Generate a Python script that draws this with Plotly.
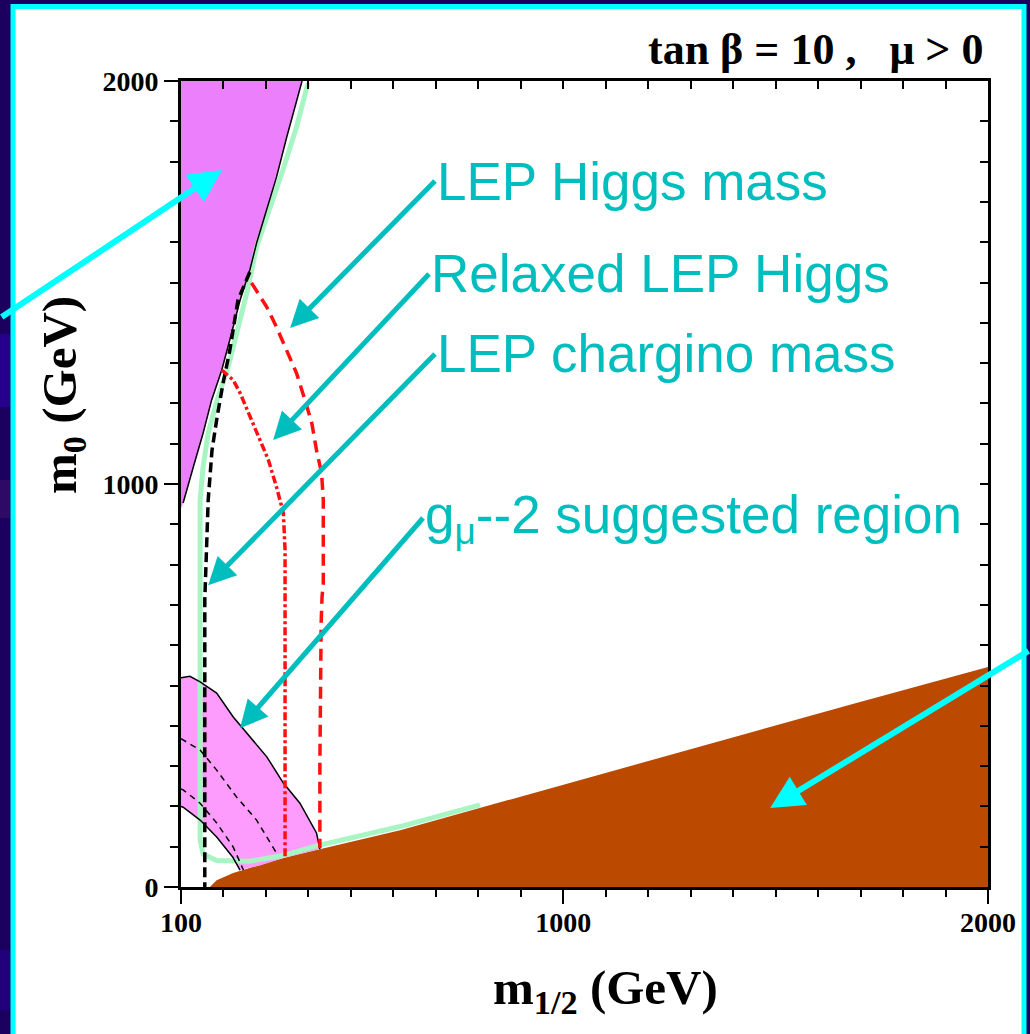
import plotly.graph_objects as go

# ---------------- data (GeV) ----------------
# excluded (charged LSP / stau) region - brown
stau_x = [168, 184, 223, 341, 419, 616, 1675, 2000, 2000]
stau_y = [0, 17, 35, 72, 92, 141, 452, 546, 0]

# no EWSB region - magenta (upper left)
ewsb_x = [100, 385, 364, 349, 325, 302, 278, 262, 239, 219, 196, 172, 152, 129, 105, 100]
ewsb_y = [2000, 2000, 1920, 1861, 1762, 1680, 1598, 1531, 1456, 1374, 1283, 1208, 1126, 1042, 953, 940]

# g-2 suggested region - pink
gm2_top_x = [100, 121, 145, 184, 223, 262, 302, 341, 380, 419, 427]
gm2_top_y = [519, 523, 509, 481, 422, 372, 323, 258, 208, 134, 94]
gm2_low_x = [100, 105, 145, 184, 222, 239]
gm2_low_y = [200, 198, 166, 124, 74, 42]
gm2_brown_x = [341, 284]
gm2_brown_y = [72, 53]
gm2_c1_x = [100, 105, 145, 184, 231, 278, 325]
gm2_c1_y = [368, 365, 340, 290, 223, 166, 84]
gm2_c2_x = [100, 105, 145, 184, 223, 247]
gm2_c2_y = [243, 241, 208, 159, 99, 42]

# cosmologically preferred strip - pale green
dm_x = [399, 372, 340, 309, 278, 255, 231, 211, 185, 164, 152, 145, 145, 145, 152, 184, 262, 340, 419, 616, 804]
dm_y = [1995, 1886, 1779, 1680, 1588, 1474, 1374, 1290, 1208, 1126, 1042, 960, 712, 117, 82, 66, 64, 78, 102, 150, 204]

# LEP chargino mass limit - black dashed
chi_x = [262, 234, 215, 199, 185, 173, 164, 161, 156, 156]
chi_y = [1526, 1456, 1332, 1250, 1166, 1084, 960, 836, 712, 0]

# LEP Higgs mass limit - red dashed
hig_x = [266, 302, 325, 349, 372, 392, 408, 419, 431, 435, 435, 432, 430, 427, 427]
hig_y = [1499, 1439, 1389, 1332, 1275, 1208, 1151, 1084, 1027, 960, 754, 719, 655, 308, 97]

# relaxed LEP Higgs limit - red dash-dot
rhig_x = [196, 223, 239, 262, 286, 306, 325, 341, 345, 345]
rhig_y = [1283, 1258, 1226, 1166, 1109, 1059, 992, 928, 836, 67]

x_tick_vals = [100, 1000, 2000]
x_tick_text = ["<b>100</b>", "<b>1000</b>", "<b>2000</b>"]
y_tick_vals = [0, 1000, 2000]
y_tick_text = ["<b>0</b>", "<b>1000</b>", "<b>2000</b>"]

# annotation labels: text and arrow-head (data)
label_texts = ["LEP Higgs mass", "Relaxed LEP Higgs", "LEP chargino mass",
               "g<sub>μ</sub>--2 suggested region"]
label_heads = [(357, 1387), (317, 1109), (164, 749), (239, 394)]

# ---------------- geometry helpers (layout only) ----------------
W, H = 1030, 1034
L, R, T, B = 181, 988, 81, 887
label_anchor_px = [(435, 181), (429, 274), (435, 354), (423, 518)]


def P(px, py):
    return (px - L) / (R - L), (B - py) / (B - T)


def D2px(x, y):
    return L + (x - 100) / 1900 * (R - L), B - y / 2000 * (B - T)


fig = go.Figure()

fig.add_trace(go.Scatter(x=stau_x, y=stau_y, fill="toself", mode="none",
                         fillcolor="#bb4a00", hoverinfo="skip"))

pink_x = gm2_top_x + gm2_brown_x + gm2_low_x[::-1]
pink_y = gm2_top_y + gm2_brown_y + gm2_low_y[::-1]
fig.add_trace(go.Scatter(x=pink_x, y=pink_y, fill="toself", mode="none",
                         fillcolor="#fd9cfd", hoverinfo="skip"))

fig.add_trace(go.Scatter(x=ewsb_x, y=ewsb_y, fill="toself", mode="none",
                         fillcolor="#ec80fc", hoverinfo="skip"))

fig.add_trace(go.Scatter(x=dm_x, y=dm_y, mode="lines",
                         line=dict(color="#a8f5c4", width=5), hoverinfo="skip"))

for cx, cy in [(gm2_c1_x, gm2_c1_y), (gm2_c2_x, gm2_c2_y)]:
    fig.add_trace(go.Scatter(x=cx, y=cy, mode="lines",
                             line=dict(color="black", width=1.5, dash="6px,5px"), hoverinfo="skip"))
for cx, cy in [(gm2_top_x, gm2_top_y), (gm2_low_x, gm2_low_y)]:
    fig.add_trace(go.Scatter(x=cx, y=cy, mode="lines",
                             line=dict(color="black", width=1.5), hoverinfo="skip"))

fig.add_trace(go.Scatter(x=ewsb_x[1:-1], y=ewsb_y[1:-1], mode="lines",
                         line=dict(color="black", width=1.5), hoverinfo="skip"))

fig.add_trace(go.Scatter(x=chi_x, y=chi_y, mode="lines",
                         line=dict(color="black", width=3.5, dash="10px,5px"), hoverinfo="skip"))
fig.add_trace(go.Scatter(x=hig_x, y=hig_y, mode="lines",
                         line=dict(color="#ff1010", width=3.5, dash="12px,7px"), hoverinfo="skip"))
fig.add_trace(go.Scatter(x=rhig_x, y=rhig_y, mode="lines",
                         line=dict(color="#ff1010", width=3.5, dash="8px,3px,3px,3px"), hoverinfo="skip"))

# dummy trace for the mirrored (top / right) axes with inward ticks
fig.add_trace(go.Scatter(x=[1000], y=[1000], xaxis="x2", yaxis="y2", mode="markers",
                         marker=dict(opacity=0), hoverinfo="skip"))

tickfont = dict(family="Liberation Serif, Times New Roman, serif", size=28, color="black")
fig.update_layout(
    width=W, height=H, showlegend=False,
    margin=dict(l=L, r=W - R, t=T, b=H - B),
    paper_bgcolor="#1c0060", plot_bgcolor="white",
    xaxis=dict(range=[100, 2000], tickmode="array", tickvals=x_tick_vals, ticktext=x_tick_text,
               ticks="outside", ticklen=14, tickwidth=2, tickcolor="black", tickfont=tickfont,
               showline=True, linecolor="black", linewidth=3, mirror=True,
               showgrid=False, zeroline=False, ticklabelstandoff=-6,
               minor=dict(tickmode="linear", tick0=100, dtick=100, ticks="outside",
                          ticklen=7, tickwidth=2, tickcolor="black", showgrid=False)),
    yaxis=dict(range=[0, 2000], tickmode="array", tickvals=y_tick_vals, ticktext=y_tick_text,
               ticks="outside", ticklen=14, tickwidth=2, tickcolor="black", tickfont=tickfont,
               showline=True, linecolor="black", linewidth=3, mirror=True,
               showgrid=False, zeroline=False, ticklabelstandoff=0,
               minor=dict(tickmode="linear", tick0=0, dtick=100, ticks="outside",
                          ticklen=8, tickwidth=2, tickcolor="black", showgrid=False)),
    xaxis2=dict(range=[100, 2000], overlaying="x", side="top", anchor="y2",
                tickmode="linear", tick0=100, dtick=100, ticks="inside", ticklen=8,
                tickwidth=2, tickcolor="black", showticklabels=False, showgrid=False,
                zeroline=False, showline=False),
    yaxis2=dict(range=[0, 2000], overlaying="y", side="right", anchor="x2",
                tickmode="linear", tick0=0, dtick=100, ticks="inside", ticklen=8,
                tickwidth=2, tickcolor="black", showticklabels=False, showgrid=False,
                zeroline=False, showline=False),
)

# subtle tint bands in the dark slide margin on the left
for py0, py1, col in [(334, 407, "#26008c"), (480, 518, "#2e0a66"), (950, 1010, "#22007c")]:
    a0, b0 = P(0, py1)
    a1, b1 = P(10, py0)
    fig.add_shape(type="rect", xref="paper", yref="paper", x0=a0, y0=b0, x1=a1, y1=b1,
                  fillcolor=col, line=dict(width=0), layer="below")

# slide panel
x0, y0 = P(13, 1040)
x1, y1 = P(1024, 6.5)
fig.add_shape(type="rect", xref="paper", yref="paper", x0=x0, y0=y0, x1=x1, y1=y1,
              fillcolor="white", line=dict(color="#00ffff", width=5), layer="below")

serif = "Liberation Serif, Times New Roman, serif"
sans = "Liberation Sans, Arial, sans-serif"
teal = "#00bebe"

ann = []
# title
tx, ty = P(985, 49)
ann.append(dict(x=tx, y=ty, xref="paper", yref="paper", xanchor="right", yanchor="middle",
                text="<b>tan β&nbsp;=&nbsp;10&nbsp;,&nbsp;&nbsp;&nbsp;μ&nbsp;&gt;&nbsp;0</b>",
                showarrow=False, font=dict(family=serif, size=44, color="black")))
# axis titles
tx, ty = P(605, 990)
ann.append(dict(x=tx, y=ty, xref="paper", yref="paper", xanchor="center", yanchor="middle",
                text="<b>m<sub>1/2</sub> (GeV)</b>", showarrow=False,
                font=dict(family=serif, size=49, color="black")))
tx, ty = P(62, 395)
ann.append(dict(x=tx, y=ty, xref="paper", yref="paper", xanchor="center", yanchor="middle",
                text="<b>m<sub>0</sub> (GeV)</b>", showarrow=False, textangle=-90,
                font=dict(family=serif, size=49, color="black")))

# teal labels with arrows (text box anchored at its left-middle, arrow to the head)
for text, (hx, hy), (tpx, tpy) in zip(label_texts, label_heads, label_anchor_px):
    hpx, hpy = D2px(hx, hy)
    ann.append(dict(x=hx, y=hy, xref="x", yref="y", ax=tpx - hpx, ay=tpy - hpy,
                    xanchor="left", yanchor="middle", text=text, showarrow=True,
                    arrowhead=2, arrowsize=1.1, arrowwidth=5, arrowcolor=teal, standoff=0,
                    font=dict(family=sans, size=53, color=teal)))

# bright cyan pointer arrows (no text)
for hx, hy, ax, ay in [(197, 1779, -222, 148), (1487, 196, 260, -158)]:
    ann.append(dict(x=hx, y=hy, xref="x", yref="y", ax=ax, ay=ay, text="", showarrow=True,
                    arrowhead=2, arrowsize=1.1, arrowwidth=6, arrowcolor="#00ffff", standoff=0))

fig.update_layout(annotations=ann)
fig.write_html("out.html")
